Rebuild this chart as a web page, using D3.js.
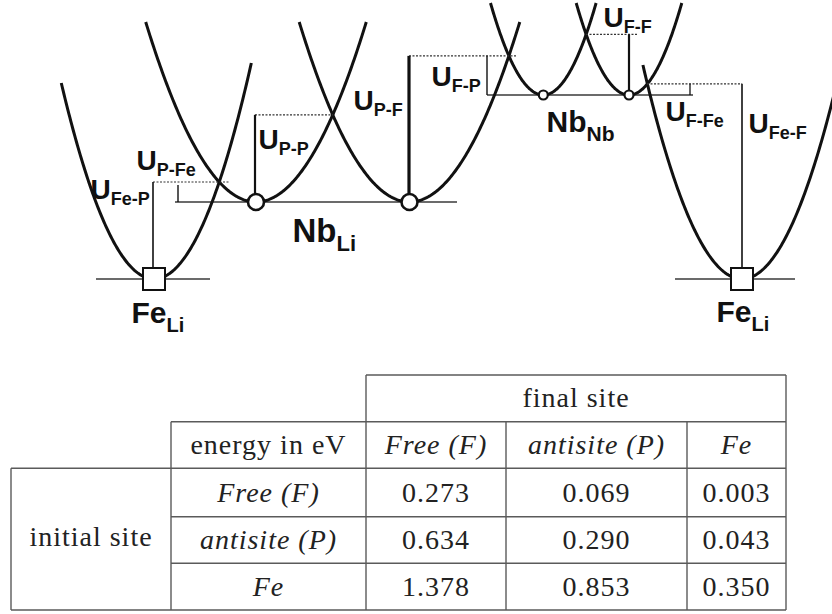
<!DOCTYPE html>
<html>
<head>
<meta charset="utf-8">
<script src="https://cdn.jsdelivr.net/npm/d3@7"></script>
<style>
  html, body { margin: 0; padding: 0; background: #fff; }
  svg { display: block; }
</style>
</head>
<body>
<svg id="chart" width="832" height="614"></svg>
<script>
// ---- Schematic energy landscape (arbitrary units: x = site coordinate, E = energy level) ----
const siteIds    = ["FeL", "NbLi1", "NbLi2", "NbNb1", "NbNb2", "FeR"];
const siteKinds  = ["Fe", "NbLi", "NbLi", "NbNb", "NbNb", "Fe"];
const siteX      = [1.54, 2.56, 4.095, 5.433, 6.29, 7.42];
const siteLevel  = [0, 0.77, 0.77, 1.84, 1.84, 0];
const siteCurv   = [2.28, 1.48, 1.48, 3.3, 3.3, 2.18];
const branchTopL = [1.96, 2.57, 2.57, 2.76, 2.76, 2.14];
const branchTopR = [2.16, 2.57, 2.57, 2.76, 2.76, 2.75];

// reference levels drawn as thin horizontal lines [xStart, xEnd, level]
const levelLines = [[0.96, 2.10, 0], [1.75, 4.57, 0.77], [4.87, 6.93, 1.84], [6.75, 7.95, 0]];

// hopping barriers: name, x of the marker bar, start level, pair of wells whose crossing sets the barrier
const hopNames  = ["Fe-P", "P-Fe", "P-P", "P-F", "F-P", "F-F", "F-Fe", "Fe-F"];
const hopX      = [1.53, 1.78, 2.55, 4.09, 4.87, 6.29, 6.90, 7.42];
const hopBase   = [0, 0.77, 0.77, 0.77, 1.84, 1.84, 1.84, 0];
const hopWells  = [[0, 1], [0, 1], [1, 2], [2, 3], [2, 3], [3, 4], [4, 5], [4, 5]];
const hopTopGap = [0, 0.03, 0, 0, 0, 0, 0, 0];
const hopWidth  = [1.6, 1.4, 2.2, 3.2, 1.4, 2.2, 1.3, 1.6];

// dotted guide lines at barrier level [xStart, xEnd, well pair]
const guides = [[1.53, 2.30, [0, 1]], [2.55, 3.33, [1, 2]], [4.09, 5.17, [2, 3]], [5.86, 6.38, [3, 4]], [6.47, 7.42, [4, 5]]];

// label anchors (x, E of baseline)
const hopLabelPos  = [[0.905, 0.80], [1.365, 1.09], [2.585, 1.30], [3.535, 1.69], [4.315, 1.93], [6.035, 2.52], [6.655, 1.58], [7.485, 1.46]];
const siteLabels   = [["Nb", "Li", 2.925, 0.37, 33, 22], ["Nb", "Nb", 5.465, 1.47, 30, 21], ["Fe", "Li", 1.315, -0.44, 30, 20], ["Fe", "Li", 7.165, -0.43, 30, 20]];

// ---- Table of barrier energies (eV) ----
const finalSites   = ["Free (F)", "antisite (P)", "Fe"];
const initialSites = ["Free (F)", "antisite (P)", "Fe"];
const energies = [
  [0.273, 0.069, 0.003],
  [0.634, 0.290, 0.043],
  [1.378, 0.853, 0.350]
];

const svg = d3.select("#chart");
const x = d3.scaleLinear().domain([0, 8.32]).range([0, 832]);
const y = d3.scaleLinear().domain([0, 2.79]).range([279, 0]);

const wellE = (i, xv) => siteLevel[i] + siteCurv[i] * (xv - siteX[i]) ** 2;
function crossing(i, j) {
  let lo = siteX[i], hi = siteX[j];
  for (let k = 0; k < 60; k++) {
    const m = (lo + hi) / 2;
    if (wellE(i, m) - wellE(j, m) < 0) lo = m; else hi = m;
  }
  const xc = (lo + hi) / 2;
  return { x: xc, E: wellE(i, xc) };
}

const gDiag = svg.append("g");

// level lines
gDiag.selectAll("line.level").data(levelLines).join("line")
  .attr("class", "level")
  .attr("x1", d => x(d[0])).attr("x2", d => x(d[1]))
  .attr("y1", d => y(d[2])).attr("y2", d => y(d[2]))
  .attr("stroke", "#3a3a3a").attr("stroke-width", 1.4);

// parabolic wells
const line = d3.line().x(d => x(d[0])).y(d => y(d[1])).curve(d3.curveLinear);
siteIds.forEach((id, i) => {
  const xl = siteX[i] - Math.sqrt((branchTopL[i] - siteLevel[i]) / siteCurv[i]);
  const xr = siteX[i] + Math.sqrt((branchTopR[i] - siteLevel[i]) / siteCurv[i]);
  const pts = d3.range(0, 201).map(k => {
    const xv = xl + (xr - xl) * k / 200;
    return [xv, wellE(i, xv)];
  });
  gDiag.append("path").datum(pts)
    .attr("d", line)
    .attr("fill", "none").attr("stroke", "#111").attr("stroke-width", 3)
    .attr("stroke-linecap", "butt");
});

// dotted guides at barrier height
guides.forEach(g => {
  const c = crossing(g[2][0], g[2][1]);
  gDiag.append("line")
    .attr("x1", x(g[0])).attr("x2", x(g[1]))
    .attr("y1", y(c.E)).attr("y2", y(c.E))
    .attr("stroke", "#333").attr("stroke-width", 1.2)
    .attr("stroke-dasharray", "2,1.5");
});

// barrier bars
hopNames.forEach((n, i) => {
  const c = crossing(hopWells[i][0], hopWells[i][1]);
  gDiag.append("line")
    .attr("x1", x(hopX[i])).attr("x2", x(hopX[i]))
    .attr("y1", y(hopBase[i])).attr("y2", y(c.E - hopTopGap[i]))
    .attr("stroke", "#111").attr("stroke-width", hopWidth[i]);
});

// site markers
siteIds.forEach((id, i) => {
  const cx = x(siteX[i]), cy = y(siteLevel[i]);
  if (siteKinds[i] === "Fe") {
    gDiag.append("rect").attr("x", cx - 11).attr("y", cy - 11).attr("width", 22).attr("height", 22)
      .attr("fill", "#fff").attr("stroke", "#111").attr("stroke-width", 2);
  } else {
    const r = siteKinds[i] === "NbLi" ? 8 : 4.5;
    gDiag.append("circle").attr("cx", cx).attr("cy", cy).attr("r", r)
      .attr("fill", "#fff").attr("stroke", "#111").attr("stroke-width", siteKinds[i] === "NbLi" ? 2.6 : 2.2);
  }
});

// barrier labels
const sansBold = "'Liberation Sans', Arial, sans-serif";
hopNames.forEach((n, i) => {
  const t = gDiag.append("text")
    .attr("x", x(hopLabelPos[i][0])).attr("y", y(hopLabelPos[i][1]))
    .attr("font-family", sansBold).attr("font-weight", "bold")
    .attr("font-size", 28).attr("fill", "#111");
  t.append("tspan").text("U");
  t.append("tspan").attr("dy", 6).attr("font-size", 18).text(n);
});

// site labels
siteLabels.forEach(s => {
  const t = gDiag.append("text")
    .attr("x", x(s[2])).attr("y", y(s[3]))
    .attr("font-family", sansBold).attr("font-weight", "bold")
    .attr("font-size", s[4]).attr("fill", "#111");
  t.append("tspan").text(s[0]);
  t.append("tspan").attr("dy", 9).attr("font-size", s[5]).text(s[1]);
});

// ---- table ----
const colEdges = [11, 171, 366, 506, 687, 786];
const rowEdges = [375, 421.7, 468.3, 516.7, 563.3, 610];
const gTab = svg.append("g");
const serif = "'Liberation Serif', 'Times New Roman', serif";
const rule = (x1, x2, y1, y2) => gTab.append("line")
  .attr("x1", x1).attr("x2", x2).attr("y1", y1).attr("y2", y2)
  .attr("stroke", "#5a5a5a").attr("stroke-width", 1.4);

rule(colEdges[2], colEdges[5], rowEdges[0], rowEdges[0]);
rule(colEdges[1], colEdges[5], rowEdges[1], rowEdges[1]);
rule(colEdges[0], colEdges[5], rowEdges[2], rowEdges[2]);
rule(colEdges[1], colEdges[5], rowEdges[3], rowEdges[3]);
rule(colEdges[1], colEdges[5], rowEdges[4], rowEdges[4]);
rule(colEdges[0], colEdges[5], rowEdges[5], rowEdges[5]);
rule(colEdges[0], colEdges[0], rowEdges[2], rowEdges[5]);
rule(colEdges[1], colEdges[1], rowEdges[1], rowEdges[5]);
rule(colEdges[2], colEdges[2], rowEdges[0], rowEdges[5]);
rule(colEdges[3], colEdges[3], rowEdges[1], rowEdges[5]);
rule(colEdges[4], colEdges[4], rowEdges[1], rowEdges[5]);
rule(colEdges[5], colEdges[5], rowEdges[0], rowEdges[5]);

const cellText = (txt, cx, cy, italic) => gTab.append("text")
  .attr("x", cx).attr("y", cy + 9)
  .attr("text-anchor", "middle")
  .attr("font-family", serif).attr("font-size", 28)
  .attr("letter-spacing", 1)
  .attr("font-style", italic ? "italic" : "normal")
  .attr("fill", "#222").text(txt);

const mid = (a, b) => (a + b) / 2;
cellText("final site", mid(colEdges[2], colEdges[5]), mid(rowEdges[0], rowEdges[1]), false);
cellText("energy in eV", mid(colEdges[1], colEdges[2]), mid(rowEdges[1], rowEdges[2]), false);
finalSites.forEach((f, j) => cellText(f, mid(colEdges[j + 2], colEdges[j + 3]), mid(rowEdges[1], rowEdges[2]), true));
cellText("initial site", mid(colEdges[0], colEdges[1]), mid(rowEdges[2], rowEdges[5]) - 2, false);
initialSites.forEach((s, i) => {
  const cy = mid(rowEdges[i + 2], rowEdges[i + 3]);
  cellText(s, mid(colEdges[1], colEdges[2]), cy, true);
  energies[i].forEach((v, j) => cellText(d3.format(".3f")(v), mid(colEdges[j + 2], colEdges[j + 3]), cy, false));
});
</script>
</body>
</html>
